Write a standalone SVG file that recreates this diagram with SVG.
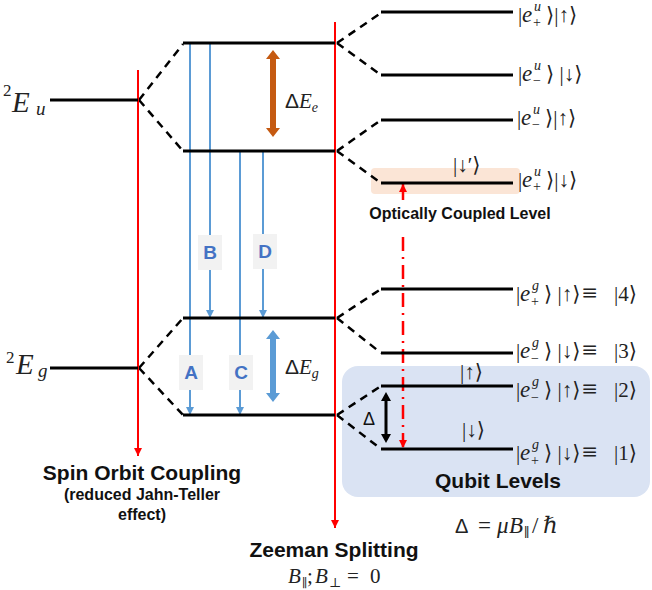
<svg xmlns="http://www.w3.org/2000/svg" width="652" height="590" viewBox="0 0 652 590">
<style>
.lvl{stroke:#000;stroke-width:3.2;fill:none}
.dash{stroke:#000;stroke-width:2.5;fill:none;stroke-dasharray:8 6}
.red{stroke:#ff0000;stroke-width:2;fill:none}
.tr{stroke:#5b9bd5;stroke-width:2;fill:none}
.k{font-family:"Liberation Serif","DejaVu Serif","DejaVu Sans",serif;font-size:21px;fill:#222}
.i{font-style:italic}
.e{font-size:23px}
.s{font-size:14px}
.q{font-size:29px}
.b{font-family:"Liberation Sans",Arial,sans-serif;font-weight:bold;fill:#111}
.lb{font-family:"Liberation Sans",Arial,sans-serif;font-weight:bold;font-size:19px;fill:#4472c4;text-anchor:middle}
.lbbox{fill:#f2f2f2}
</style>
<defs>
<marker id="ar" markerUnits="userSpaceOnUse" markerWidth="9" markerHeight="8" refX="8" refY="4" orient="auto"><path d="M0,0 L8,4 L0,8 Z" fill="#ff0000"/></marker>
<marker id="ab" markerUnits="userSpaceOnUse" markerWidth="9" markerHeight="8" refX="8" refY="4" orient="auto"><path d="M0,0 L8,4 L0,8 Z" fill="#5b9bd5"/></marker>
</defs>

<!-- background boxes -->
<g id="qubit-box"><rect x="342" y="366" width="308" height="131" rx="16" fill="#dae3f3"/></g>
<g id="optical-box"><rect x="371" y="168" width="149" height="26" rx="4" fill="#fbe5d6"/></g>

<!-- connectors -->
<g id="connectors">
<path class="dash" d="M139,100 L183,44 M139,100 L183,151 M139,368 L183,318 M139,368 L183,415"/>
<path class="dash" d="M337,43 L381,13 M337,43 L381,75 M337,151 L381,120 M337,151 L381,183 M337,318 L381,289 M337,318 L381,353 M337,415 L381,386 M337,415 L381,449"/>
<line class="red" x1="138" y1="70" x2="138" y2="456" marker-end="url(#ar)"/>
<line class="red" x1="335" y1="22" x2="335" y2="528" marker-end="url(#ar)"/>
<line class="tr" x1="190" y1="43" x2="190" y2="415" marker-end="url(#ab)"/>
<line class="tr" x1="210" y1="43" x2="210" y2="318" marker-end="url(#ab)"/>
<line class="tr" x1="240" y1="151" x2="240" y2="415" marker-end="url(#ab)"/>
<line class="tr" x1="263" y1="151" x2="263" y2="318" marker-end="url(#ab)"/>
<line stroke="#ff0000" stroke-width="2.5" x1="403" y1="200" x2="403" y2="184" marker-end="url(#ar)"/>
<line stroke="#ff0000" stroke-width="2.5" stroke-dasharray="14 6 2 6" x1="403" y1="237" x2="403" y2="448" marker-end="url(#ar)"/>
<polygon points="273,50 280,59 276,59 276,128 280,128 273,137 266,128 270,128 270,59 266,59" fill="#c55a11"/>
<polygon points="273,330 280,339 276,339 276,393 280,393 273,402 266,393 270,393 270,339 266,339" fill="#5b9bd5"/>
<polygon points="386,392 391,401 387.5,401 387.5,434 391,434 386,443 381,434 384.5,434 384.5,401 381,401" fill="#000"/>
</g>

<!-- levels -->
<g id="Eu"><line class="lvl" x1="50" y1="100" x2="138" y2="100"/>
<text class="k"><tspan class="i q" x="12" y="112">E</tspan><tspan style="font-size:17px" x="3" y="96">2</tspan><tspan class="i" style="font-size:19px" x="36" y="115">u</tspan></text></g>
<g id="Eg"><line class="lvl" x1="50" y1="368" x2="138" y2="368"/>
<text class="k"><tspan class="i q" x="16" y="374">E</tspan><tspan style="font-size:17px" x="6" y="363">2</tspan><tspan class="i" style="font-size:19px" x="38" y="377">g</tspan></text></g>

<g id="Ee-upper"><line class="lvl" x1="183" y1="43" x2="335" y2="43"/></g>
<g id="Ee-lower"><line class="lvl" x1="183" y1="151" x2="335" y2="151"/></g>
<g id="Eg-upper"><line class="lvl" x1="183" y1="318" x2="335" y2="318"/></g>
<g id="Eg-lower"><line class="lvl" x1="183" y1="415" x2="335" y2="415"/></g>

<g id="dEe"><text class="k" x="285" y="108" style="font-size:21px"><tspan font-family="Liberation Sans,sans-serif">Δ</tspan><tspan class="i">E</tspan><tspan class="i s" dy="4">e</tspan></text></g>
<g id="dEg"><text class="k" x="285" y="374" style="font-size:21px"><tspan font-family="Liberation Sans,sans-serif">Δ</tspan><tspan class="i">E</tspan><tspan class="i s" dy="4">g</tspan></text></g>

<g id="lab-A"><rect class="lbbox" x="179" y="355" width="24" height="35"/><text class="lb" x="191" y="379">A</text></g>
<g id="lab-B"><rect class="lbbox" x="198" y="235" width="24" height="35"/><text class="lb" x="210" y="259">B</text></g>
<g id="lab-C"><rect class="lbbox" x="229" y="355" width="24" height="35"/><text class="lb" x="241" y="379">C</text></g>
<g id="lab-D"><rect class="lbbox" x="253" y="234" width="24" height="35"/><text class="lb" x="265" y="258">D</text></g>

<!-- Zeeman levels -->
<g id="z1"><line class="lvl" x1="381" y1="12" x2="513" y2="12"/>
<text class="k"><tspan x="518" y="22">|</tspan><tspan class="i e" x="522" y="22">e</tspan><tspan class="i s" x="534" y="11">u</tspan><tspan class="s" x="533" y="27">+</tspan><tspan x="546" y="22">⟩|↑⟩</tspan></text></g>
<g id="z2"><line class="lvl" x1="381" y1="75" x2="513" y2="75"/>
<text class="k"><tspan x="518" y="81">|</tspan><tspan class="i e" x="522" y="81">e</tspan><tspan class="i s" x="534" y="70">u</tspan><tspan class="s" x="533" y="85">−</tspan><tspan x="546" y="81">⟩ |↓⟩</tspan></text></g>
<g id="z3"><line class="lvl" x1="381" y1="120" x2="513" y2="120"/>
<text class="k"><tspan x="517" y="125">|</tspan><tspan class="i e" x="521" y="125">e</tspan><tspan class="i s" x="533" y="114">u</tspan><tspan class="s" x="532" y="129">−</tspan><tspan x="545" y="125">⟩|↑⟩</tspan></text></g>
<g id="z4"><line class="lvl" x1="381" y1="183" x2="513" y2="183"/>
<text class="k"><tspan x="518" y="187">|</tspan><tspan class="i e" x="522" y="187">e</tspan><tspan class="i s" x="534" y="176">u</tspan><tspan class="s" x="533" y="191">+</tspan><tspan x="546" y="187">⟩|↓⟩</tspan></text>
<text class="k" x="453" y="172">|↓′⟩</text></g>
<g id="z5"><line class="lvl" x1="381" y1="289" x2="513" y2="289"/>
<text class="k"><tspan x="516" y="301">|</tspan><tspan class="i e" x="520" y="301">e</tspan><tspan class="i s" x="532" y="290">g</tspan><tspan class="s" x="531" y="306">+</tspan><tspan x="544" y="301">⟩ |↑⟩</tspan><tspan x="582" y="302" style="font-size:27px">≡</tspan><tspan x="614" y="301">|4⟩</tspan></text></g>
<g id="z6"><line class="lvl" x1="381" y1="353" x2="513" y2="353"/>
<text class="k"><tspan x="516" y="358">|</tspan><tspan class="i e" x="520" y="358">e</tspan><tspan class="i s" x="532" y="347">g</tspan><tspan class="s" x="531" y="363">−</tspan><tspan x="544" y="358">⟩ |↓⟩</tspan><tspan x="582" y="359" style="font-size:27px">≡</tspan><tspan x="614" y="358">|3⟩</tspan></text></g>
<g id="z7"><line class="lvl" x1="381" y1="386" x2="513" y2="386"/>
<text class="k"><tspan x="516" y="397">|</tspan><tspan class="i e" x="520" y="397">e</tspan><tspan class="i s" x="532" y="386">g</tspan><tspan class="s" x="531" y="402">−</tspan><tspan x="544" y="397">⟩ |↑⟩</tspan><tspan x="582" y="398" style="font-size:27px">≡</tspan><tspan x="614" y="397">|2⟩</tspan></text>
<text class="k" x="460" y="379">|↑⟩</text></g>
<g id="z8"><line class="lvl" x1="381" y1="449" x2="513" y2="449"/>
<text class="k"><tspan x="516" y="460">|</tspan><tspan class="i e" x="520" y="460">e</tspan><tspan class="i s" x="532" y="449">g</tspan><tspan class="s" x="531" y="465">+</tspan><tspan x="544" y="460">⟩ |↓⟩</tspan><tspan x="582" y="461" style="font-size:27px">≡</tspan><tspan x="614" y="460">|1⟩</tspan></text>
<text class="k" x="462" y="437">|↓⟩</text></g>

<g id="delta"><text x="363" y="425" font-family="Liberation Sans,sans-serif" font-size="18" fill="#111">Δ</text></g>

<!-- texts -->
<g id="optical-label"><text class="b" x="460" y="219" font-size="16" text-anchor="middle">Optically Coupled Level</text></g>
<g id="qubit-label"><text class="b" x="498" y="488" font-size="21" text-anchor="middle">Qubit Levels</text></g>
<g id="soc-label"><text class="b" x="142" y="480" font-size="21" text-anchor="middle">Spin Orbit Coupling</text>
<text class="b" x="142" y="500" font-size="16" text-anchor="middle">(reduced Jahn-Teller</text>
<text class="b" x="142" y="520" font-size="16" text-anchor="middle">effect)</text></g>
<g id="zeeman-label"><text class="b" x="334" y="557" font-size="21" text-anchor="middle">Zeeman Splitting</text>
<text class="k" style="font-size:21px"><tspan class="i" x="288" y="583">B</tspan><tspan style="font-size:12px" x="302" y="587">∥</tspan><tspan x="307" y="583">;</tspan><tspan class="i" x="315" y="583">B</tspan><tspan style="font-size:13px" x="329" y="587">⊥</tspan><tspan x="347" y="583">=</tspan><tspan x="370" y="583">0</tspan></text></g>
<g id="equation"><text class="k" style="font-size:23px"><tspan x="455" y="533" font-family="Liberation Sans,sans-serif" style="font-size:20px">Δ</tspan><tspan x="478" y="533">=</tspan><tspan class="i" x="497" y="533">μ</tspan><tspan class="i" x="509" y="533">B</tspan><tspan style="font-size:13px" x="524" y="537">∥</tspan><tspan x="532" y="533">/</tspan><tspan class="i" x="543" y="533">ℏ</tspan></text></g>
</svg>
